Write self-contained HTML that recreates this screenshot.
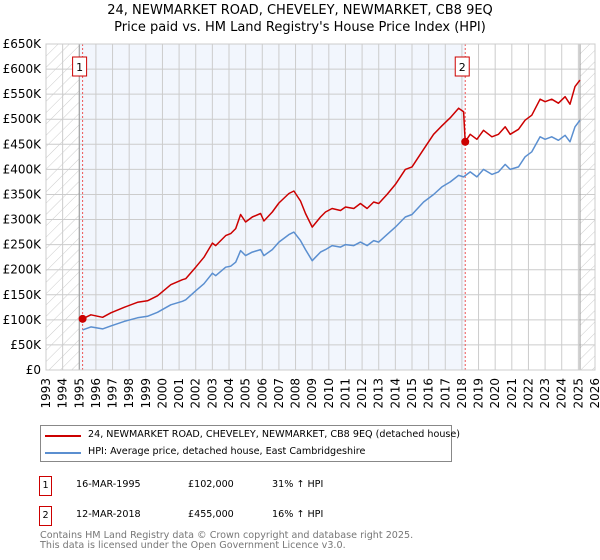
<!DOCTYPE html>
<html><head><meta charset="utf-8"><style>
body{margin:0;background:#fff;font-family:"Liberation Sans","DejaVu Sans",sans-serif;}
#wrap{position:relative;width:600px;height:560px;overflow:hidden}
.t{position:absolute;white-space:nowrap;color:#000}
</style></head><body>
<div id="wrap">
<svg id="chart" width="600" height="420" style="position:absolute;left:0;top:0">
<defs><pattern id="hatch" width="8" height="8" patternUnits="userSpaceOnUse" patternTransform="rotate(45)"><line x1="0" y1="0" x2="0" y2="8" stroke="#ccc" stroke-width="1"/></pattern></defs>
<text x="300" y="14" text-anchor="middle" font-size="13" font-family="DejaVu Sans, sans-serif">24, NEWMARKET ROAD, CHEVELEY, NEWMARKET, CB8 9EQ</text>
<text x="300" y="31" text-anchor="middle" font-size="13" font-family="DejaVu Sans, sans-serif">Price paid vs. HM Land Registry's House Price Index (HPI)</text>
<g id="g"></g>
</svg>
<div style="position:absolute;left:40px;top:425px;width:410px;height:35px;border:1px solid #888;font-family:'DejaVu Sans',sans-serif;font-size:9.6px">
<div style="position:absolute;left:4px;top:9px;width:36px;height:2px;background:#cc0000"></div>
<div class="t" style="left:47px;top:3px">24, NEWMARKET ROAD, CHEVELEY, NEWMARKET, CB8 9EQ (detached house)</div>
<div style="position:absolute;left:4px;top:26px;width:36px;height:2px;background:#5b8fd0"></div>
<div class="t" style="left:47px;top:20px">HPI: Average price, detached house, East Cambridgeshire</div>
</div>
<div style="font-family:'DejaVu Sans',sans-serif;font-size:9.6px">
<div class="t" style="left:39px;top:476px;width:11px;height:18px;border:1px solid #c00;text-align:center;line-height:18px">1</div>
<div class="t" style="left:76px;top:479px">16-MAR-1995</div>
<div class="t" style="left:188px;top:479px">£102,000</div>
<div class="t" style="left:272px;top:479px">31% ↑ HPI</div>
<div class="t" style="left:39px;top:506px;width:11px;height:18px;border:1px solid #c00;text-align:center;line-height:18px">2</div>
<div class="t" style="left:76px;top:509px">12-MAR-2018</div>
<div class="t" style="left:188px;top:509px">£455,000</div>
<div class="t" style="left:272px;top:509px">16% ↑ HPI</div>
<div class="t" style="left:40px;top:531px;color:#777;line-height:10px">Contains HM Land Registry data © Crown copyright and database right 2025.<br>This data is licensed under the Open Government Licence v3.0.</div>
</div>
</div>
<script>
const yTicks=[0,50,100,150,200,250,300,350,400,450,500,550,600,650];
const yTickLabels=["£0","£50K","£100K","£150K","£200K","£250K","£300K","£350K","£400K","£450K","£500K","£550K","£600K","£650K"];
const xYears=[1993,1994,1995,1996,1997,1998,1999,2000,2001,2002,2003,2004,2005,2006,2007,2008,2009,2010,2011,2012,2013,2014,2015,2016,2017,2018,2019,2020,2021,2022,2023,2024,2025,2026];
const hpiDates=[1995.2,1995.7,1996.4,1996.9,1997.7,1998.5,1999.1,1999.7,2000.5,2001.2,2001.4,2002.0,2002.5,2003.0,2003.2,2003.8,2004.1,2004.4,2004.7,2005.0,2005.4,2005.9,2006.1,2006.6,2007.0,2007.6,2007.9,2008.3,2008.6,2009.0,2009.5,2009.8,2010.2,2010.7,2011.0,2011.5,2011.9,2012.3,2012.7,2013.0,2013.5,2014.0,2014.6,2015.0,2015.7,2016.3,2016.8,2017.3,2017.8,2018.1,2018.5,2018.9,2019.3,2019.8,2020.2,2020.6,2020.9,2021.4,2021.8,2022.2,2022.7,2023.0,2023.4,2023.8,2024.2,2024.5,2024.8,2025.1];
const hpiValues=[80,86,82,88,97,104,107,115,130,137,140,158,172,193,188,205,207,215,238,228,235,240,228,240,255,270,275,258,240,218,235,240,248,245,250,248,255,248,258,255,270,285,305,310,335,350,365,375,388,385,395,385,400,390,395,410,400,405,425,435,465,460,465,458,468,455,485,498];
const propDates=[1995.2,1995.7,1996.4,1996.9,1997.7,1998.5,1999.1,1999.7,2000.5,2001.2,2001.4,2002.0,2002.5,2003.0,2003.2,2003.8,2004.1,2004.4,2004.7,2005.0,2005.4,2005.9,2006.1,2006.6,2007.0,2007.6,2007.9,2008.3,2008.6,2009.0,2009.5,2009.8,2010.2,2010.7,2011.0,2011.5,2011.9,2012.3,2012.7,2013.0,2013.5,2014.0,2014.6,2015.0,2015.7,2016.3,2016.8,2017.3,2017.8,2018.1,2018.2,2018.5,2018.9,2019.3,2019.8,2020.2,2020.6,2020.9,2021.4,2021.8,2022.2,2022.7,2023.0,2023.4,2023.8,2024.2,2024.5,2024.8,2025.1];
const propValues=[102,110,105,114,125,135,138,148,170,180,182,205,225,253,248,268,272,282,310,295,305,312,297,315,333,352,357,337,312,285,305,315,322,318,325,322,332,322,335,332,350,370,400,405,440,470,487,503,522,515,455,470,460,478,465,470,485,470,480,498,508,540,535,540,532,545,530,565,578];
const saleDates=[1995.2,2018.2];
const saleValues=[102,455];
const saleLabels=["1","2"];
const NS="http://www.w3.org/2000/svg";
const X0=46,X1=595,Y0=370,Y1=44;
const xs=y=>X0+(y-1993)/33*(X1-X0);
const ys=v=>Y0-v/650*(Y0-Y1);
const g=document.getElementById('g');
function mk(t,a){const e=document.createElementNS(NS,t);for(const k in a)e.setAttribute(k,a[k]);g.appendChild(e);return e;}
let e;
e=mk('rect',{x:X0,y:Y1,width:X1-X0,height:Y0-Y1,fill:'#fff'});
e=mk('rect',{x:xs(1995),y:Y1,width:xs(2018.2)-xs(1995),height:Y0-Y1,fill:'#f2f6fd'});

e=mk('rect',{x:X0,y:Y1,width:xs(1995)-X0,height:Y0-Y1,fill:'url(#hatch)'});

e=mk('rect',{x:xs(2025.1),y:Y1,width:X1-xs(2025.1),height:Y0-Y1,fill:'url(#hatch)'});

yTicks.forEach((v,i)=>{
 e=mk('line',{x1:X0,x2:X1,y1:ys(v),y2:ys(v),stroke:'#ccc'});
 
 e=mk('text',{x:X0-5,y:ys(v)+4,'text-anchor':'end','font-size':12,'font-family':'DejaVu Sans, sans-serif'});
 e.textContent=yTickLabels[i];
 
});
xYears.forEach(yr=>{
 e=mk('line',{x1:xs(yr),x2:xs(yr),y1:Y1,y2:Y0,stroke:'#ccc'});
 
 e=mk('text',{x:0,y:0,'text-anchor':'end','font-size':12,'font-family':'DejaVu Sans, sans-serif',transform:`translate(${xs(yr)+4},378) rotate(-90)`});
 e.textContent=yr;
 
});
e=mk('line',{x1:xs(1995),x2:xs(1995),y1:Y1,y2:Y0,stroke:'#999'});
e=mk('line',{x1:xs(2025.1),x2:xs(2025.1),y1:Y1,y2:Y0,stroke:'#999'});
saleDates.forEach((d,i)=>{
 e=mk('line',{x1:xs(d),x2:xs(d),y1:Y1,y2:Y0,stroke:'#e55','stroke-dasharray':'2,2'});
 
});
e=mk('rect',{x:X0,y:Y1,width:X1-X0,height:Y0-Y1,fill:'none',stroke:'#ccc'});
function path(ds,vs,col,name){
 const d=ds.map((t,i)=>(i?'L':'M')+xs(t).toFixed(1)+','+ys(vs[i]).toFixed(1)).join('');
 const p=mk('path',{d:d,fill:'none',stroke:col,'stroke-width':1.5,'stroke-linejoin':'round'});
 
 
}
path(hpiDates,hpiValues,'#5b8fd0','hpi-line');
path(propDates,propValues,'#cc0000','property-price-line');
saleDates.forEach((d,i)=>{
 e=mk('circle',{cx:xs(d),cy:ys(saleValues[i]),r:4,fill:'#cc0000'});
 
 
 const bx=xs(d)-10;
 e=mk('rect',{x:bx,y:57,width:14,height:19,fill:'#fff',stroke:'#c00'});
 
 
 e=mk('text',{x:bx+7,y:71,'text-anchor':'middle','font-size':11,'font-family':'DejaVu Sans, sans-serif'});
 e.textContent=saleLabels[i];
 
 
});
</script>
</body></html>
